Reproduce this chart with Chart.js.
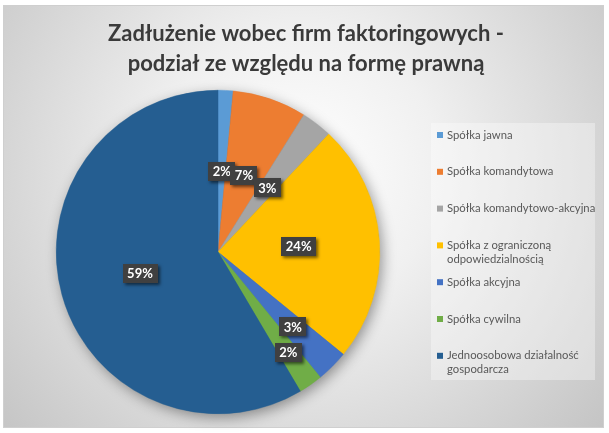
<!DOCTYPE html>
<html><head><meta charset="utf-8">
<script src="https://cdn.jsdelivr.net/npm/chart.js@4/dist/chart.umd.min.js"></script>
<style>html,body{margin:0;padding:0;background:#fff}canvas{display:block}</style>
</head><body>
<canvas id="c" width="609" height="433"></canvas>
<script>
const TITLE_LINES = ['Zadłużenie wobec firm faktoringowych -', 'podział ze względu na formę prawną'];
const categories = [
  'Spółka jawna',
  'Spółka komandytowa',
  'Spółka komandytowo-akcyjna',
  'Spółka z ograniczoną odpowiedzialnością',
  'Spółka akcyjna',
  'Spółka cywilna',
  'Jednoosobowa działalność gospodarcza'
];
const shares = [1.5, 7.4, 3.1, 23.9, 3.2, 2.4, 58.5];
const sliceColors = ['#5B9BD5', '#ED7D31', '#A5A5A5', '#FFC000', '#4472C4', '#70AD47', '#255E91'];
const labelRadius = [0.5, 0.5, 0.5, 0.5, 0.655, 0.76, 0.5];

const FONT = 'Lato, "Open Sans", sans-serif';

function wrap(ctx, text, maxW) {
  const words = text.split(' ');
  const lines = [];
  let cur = '';
  for (const w of words) {
    const t = cur ? cur + ' ' + w : w;
    if (ctx.measureText(t).width > maxW && cur) { lines.push(cur); cur = w; }
    else cur = t;
  }
  if (cur) lines.push(cur);
  return lines;
}

const decor = {
  id: 'decor',
  beforeDraw(chart) {
    const ctx = chart.ctx;
    ctx.save();
    ctx.fillStyle = '#ffffff';
    ctx.fillRect(0, 0, chart.width, chart.height);
    const g = ctx.createRadialGradient(300, 170, 0, 300, 170, 400);
    g.addColorStop(0, '#ffffff');
    g.addColorStop(0.35, '#f0f0f0');
    g.addColorStop(1, '#c4c4c4');
    ctx.fillStyle = g;
    ctx.fillRect(3, 5, 601, 423);
    ctx.strokeStyle = '#cfcfcf';
    ctx.lineWidth = 1;
    ctx.strokeRect(3.5, 5.5, 600, 422);
    // title
    ctx.fillStyle = '#3a3a3a';
    ctx.font = 'bold 22px ' + FONT;
    ctx.textAlign = 'center';
    ctx.textBaseline = 'middle';
    ctx.fillText(TITLE_LINES[0], 306, 34);
    ctx.fillText(TITLE_LINES[1], 306, 64);
    // legend box
    ctx.fillStyle = 'rgba(255,255,255,0.35)';
    ctx.fillRect(431, 123, 164, 257);
    ctx.font = '11.3px ' + FONT;
    ctx.textAlign = 'left';
    const labels = chart.data.labels;
    const cols = chart.data.datasets[0].backgroundColor;
    const top = 135, pitch = 36.8;
    labels.forEach((lab, i) => {
      const y = top + i * pitch;
      ctx.fillStyle = cols[i];
      ctx.fillRect(437, y - 3, 6, 6);
      ctx.fillStyle = '#595959';
      const lines = wrap(ctx, lab, 150);
      lines.forEach((ln, k) => ctx.fillText(ln, 447, y + k * 14));
    });
    ctx.restore();
  },
  beforeDatasetsDraw(chart) {
    const arc = chart.getDatasetMeta(0).data[0];
    if (!arc) return;
    const ctx = chart.ctx;
    ctx.save();
    ctx.shadowColor = 'rgba(0,0,0,0.4)';
    ctx.shadowBlur = 14;
    ctx.shadowOffsetX = 3;
    ctx.shadowOffsetY = 4;
    ctx.fillStyle = '#255E91';
    ctx.beginPath();
    ctx.arc(arc.x, arc.y, arc.outerRadius - 0.5, 0, Math.PI * 2);
    ctx.fill();
    ctx.restore();
  },
  afterDatasetsDraw(chart) {
    const ctx = chart.ctx;
    const ds = chart.data.datasets[0];
    const total = ds.data.reduce((a, b) => a + b, 0);
    ctx.save();
    ctx.font = 'bold 13px ' + FONT;
    ctx.textAlign = 'center';
    ctx.textBaseline = 'middle';
    chart.getDatasetMeta(0).data.forEach((arc, i) => {
      const p = arc.getProps(['x', 'y', 'startAngle', 'endAngle', 'outerRadius'], true);
      const mid = (p.startAngle + p.endAngle) / 2;
      const r = p.outerRadius * labelRadius[i];
      const cx = p.x + Math.cos(mid) * r;
      const cy = p.y + Math.sin(mid) * r;
      const txt = Math.round(ds.data[i] / total * 100) + '%';
      const w = ctx.measureText(txt).width + 9;
      const h = 19;
      ctx.save();
      ctx.shadowColor = 'rgba(0,0,0,0.55)';
      ctx.shadowBlur = 3;
      ctx.shadowOffsetX = 2;
      ctx.shadowOffsetY = 2;
      ctx.fillStyle = '#404040';
      ctx.fillRect(Math.round(cx - w / 2), Math.round(cy - h / 2), Math.round(w), h);
      ctx.restore();
      ctx.fillStyle = '#ffffff';
      ctx.fillText(txt, cx, cy + 0.5);
    });
    ctx.restore();
  }
};

new Chart(document.getElementById('c'), {
  type: 'pie',
  data: {
    labels: categories,
    datasets: [{
      data: shares,
      backgroundColor: sliceColors,
      borderColor: sliceColors,
      borderWidth: 0.5
    }]
  },
  options: {
    responsive: false,
    animation: false,
    devicePixelRatio: 1,
    layout: { padding: { left: 56, top: 90, right: 229, bottom: 19 } },
    plugins: {
      legend: { display: false },
      tooltip: { enabled: false },
      title: { display: false }
    }
  },
  plugins: [decor]
});
</script>
</body></html>
